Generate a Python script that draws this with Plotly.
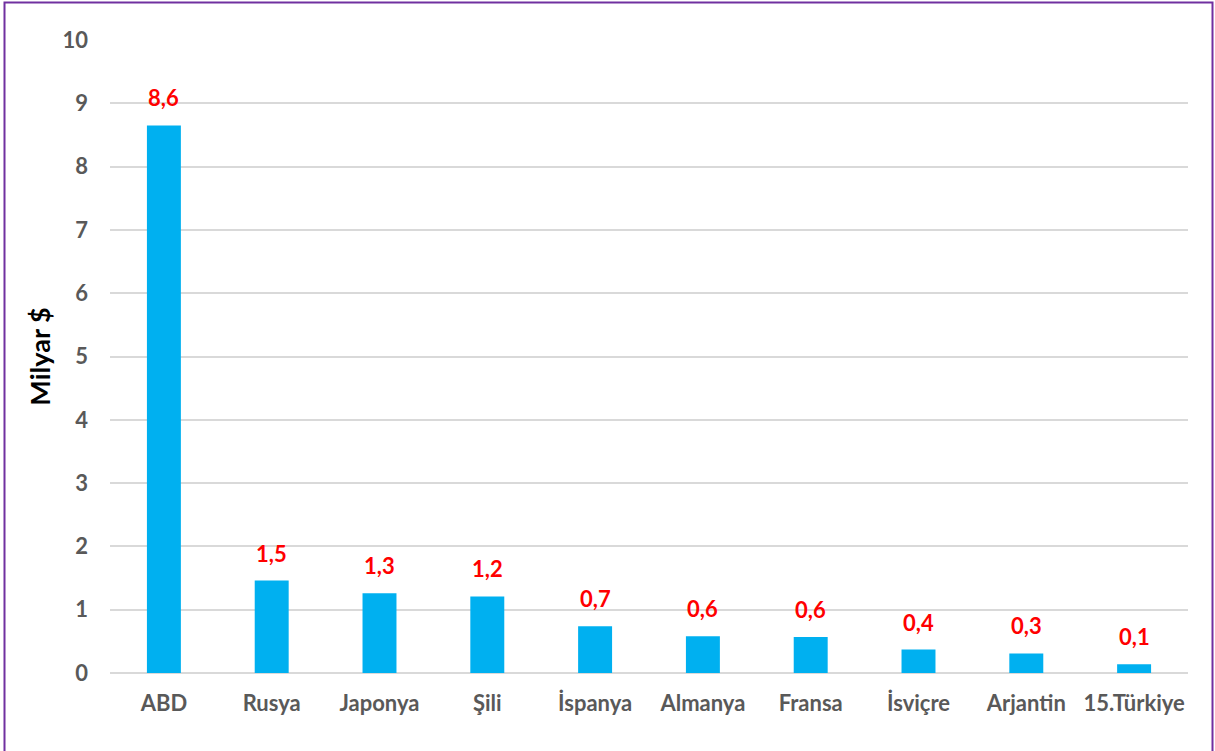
import plotly.graph_objects as go

countries = ["ABD", "Rusya", "Japonya", "Şili", "İspanya", "Almanya", "Fransa", "İsviçre", "Arjantin", "15.Türkiye"]
values = [8.65, 1.46, 1.26, 1.21, 0.74, 0.58, 0.57, 0.37, 0.31, 0.14]
labels = ["8,6", "1,5", "1,3", "1,2", "0,7", "0,6", "0,6", "0,4", "0,3", "0,1"]
y_ticks = list(range(0, 11))

W, H = 1215, 751
ml, mr, mt, mb = 110, 27, 40, 78
pw, ph = W - ml - mr, H - mt - mb

fig = go.Figure(go.Bar(
    x=countries, y=values,
    marker=dict(color="#00B0F0", line=dict(width=0)),
    hoverinfo="x+y",
))

for c, v, t in zip(countries, values, labels):
    fig.add_annotation(x=c, y=v, text=t, showarrow=False, yanchor="bottom", yshift=12,
                       font=dict(color="#FF0000", size=22, family="Lato", weight="bold"))

def px_x(p):
    return (p - ml) / pw

def px_y(p):
    return (H - mb - p) / ph

fig.add_shape(type="rect", xref="paper", yref="paper",
              x0=px_x(4.5), x1=px_x(1212.5), y0=px_y(760), y1=px_y(2.5),
              line=dict(color="#7030A0", width=2), fillcolor="rgba(0,0,0,0)", layer="below")

fig.update_layout(
    width=W, height=H,
    margin=dict(l=ml, r=mr, t=mt, b=mb),
    paper_bgcolor="white", plot_bgcolor="white",
    bargap=0.685,
    showlegend=False,
    font=dict(family="Lato", color="#595959"),
    xaxis=dict(
        tickfont=dict(size=22, color="#595959", family="Lato", weight="bold"),
        showline=False, showgrid=False, ticks="", ticklabelstandoff=15,
    ),
    yaxis=dict(
        range=[0, 10], tickvals=y_ticks, ticktext=[str(t) for t in y_ticks],
        tickfont=dict(size=22, color="#595959", family="Lato", weight="bold"),
        showgrid=True, gridcolor="#D9D9D9", gridwidth=2,
        zeroline=True, zerolinecolor="#D9D9D9", zerolinewidth=2,
        showline=False, ticks="", ticklabelstandoff=21,
        title=dict(text="Milyar $", font=dict(size=27, color="#000000", family="Lato", weight="bold"), standoff=4),
    ),
)

fig.write_html("out.html", config={"displayModeBar": False},
               post_script="document.body.style.margin='0';document.body.style.overflow='hidden';")
